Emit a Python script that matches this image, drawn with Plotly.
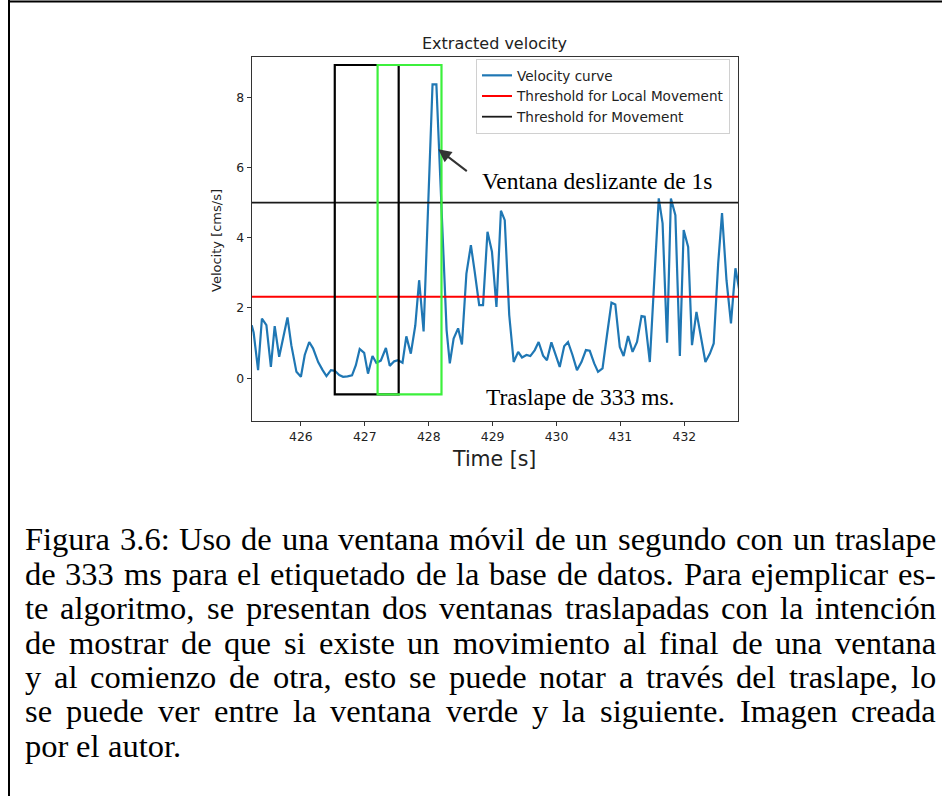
import plotly.graph_objects as go

# ---------------- data ----------------
time_s = [425.23, 425.26, 425.33, 425.39, 425.46, 425.53, 425.59, 425.66, 425.79, 425.85,
          425.93, 426.00, 426.06, 426.13, 426.19, 426.27, 426.34, 426.40, 426.47, 426.53,
          426.60, 426.66, 426.73, 426.80, 426.86, 426.92, 426.99, 427.05, 427.12, 427.18,
          427.25, 427.33, 427.39, 427.46, 427.52, 427.59, 427.65, 427.72, 427.79, 427.85,
          427.92, 428.06, 428.12, 428.28, 428.33, 428.39, 428.46, 428.52, 428.59, 428.66,
          428.72, 428.79, 428.85, 428.92, 428.99, 429.06, 429.13, 429.19, 429.26, 429.33,
          429.40, 429.46, 429.53, 429.59, 429.66, 429.72, 429.79, 429.85, 429.92, 429.99,
          430.05, 430.12, 430.18, 430.25, 430.32, 430.39, 430.46, 430.52, 430.59, 430.65,
          430.72, 430.79, 430.86, 430.92, 430.99, 431.05, 431.12, 431.19, 431.26, 431.33,
          431.38, 431.46, 431.60, 431.66, 431.73, 431.79, 431.86, 431.93, 431.99, 432.06,
          432.12, 432.19, 432.25, 432.33, 432.40, 432.46, 432.53, 432.59, 432.66, 432.73,
          432.80, 432.87]
velocity = [1.51, 1.30, 0.23, 1.70, 1.51, 0.32, 1.48, 0.61, 1.73, 0.94,
            0.18, 0.04, 0.66, 1.03, 0.85, 0.46, 0.23, 0.06, 0.23, 0.21,
            0.09, 0.04, 0.05, 0.08, 0.37, 0.83, 0.72, 0.13, 0.63, 0.44,
            0.50, 0.86, 0.35, 0.48, 0.51, 0.44, 1.19, 0.70, 1.50, 2.79,
            1.33, 8.37, 8.37, 1.37, 0.42, 1.13, 1.42, 0.96, 2.98, 3.79,
            3.03, 2.08, 2.08, 4.17, 3.60, 2.03, 4.77, 4.50, 1.80, 0.46,
            0.75, 0.59, 0.66, 0.63, 0.80, 1.03, 0.64, 0.51, 1.02, 0.66,
            0.32, 0.91, 1.03, 0.66, 0.23, 0.46, 0.80, 0.78, 0.42, 0.18,
            0.28, 1.23, 2.15, 2.10, 0.89, 0.63, 1.20, 0.75, 1.03, 1.77,
            1.75, 0.46, 5.12, 4.41, 1.01, 5.12, 4.64, 0.63, 4.22, 3.74,
            0.94, 1.89, 1.27, 0.46, 0.70, 0.99, 3.27, 4.70, 2.79, 1.56,
            3.13, 2.40]
local_threshold = 2.32
movement_threshold = 5.0
window_starts = [426.53, 427.20]
window_length = 1.0
window_colors = ["#000000", "#3cf03c"]
window_low, window_high = -0.46, 8.92
x_ticks = [426, 427, 428, 429, 430, 431, 432]
y_ticks = [0, 2, 4, 6, 8]
x_range = [425.23, 432.84]
y_range = [-1.22, 9.14]

caption_lines = [
    "Figura 3.6: Uso de una ventana móvil de un segundo con un traslape",
    "de 333 ms para el etiquetado de la base de datos. Para ejemplicar es-",
    "te algoritmo, se presentan dos ventanas traslapadas con la intención",
    "de mostrar de que si existe un movimiento al final de una ventana",
    "y al comienzo de otra, esto se puede notar a través del traslape, lo",
    "se puede ver entre la ventana verde y la siguiente. Imagen creada",
    "por el autor.",
]

# ---------------- layout helpers ----------------
W, H = 942, 796
def px(x):
    return x / W
def py(y):
    return 1 - y / H

SANS = "DejaVu Sans"
SERIF = "Liberation Serif"

fig = go.Figure()
fig.add_trace(go.Scatter(x=time_s, y=velocity, mode="lines", name="Velocity curve",
                         line=dict(color="#1f77b4", width=2.2)))
fig.add_trace(go.Scatter(x=x_range, y=[local_threshold] * 2, mode="lines",
                         name="Threshold for Local Movement",
                         line=dict(color="#ff0000", width=2)))
fig.add_trace(go.Scatter(x=x_range, y=[movement_threshold] * 2, mode="lines",
                         name="Threshold for Movement",
                         line=dict(color="#1a1a1a", width=1.8)))

shapes = []
for start, col in zip(window_starts, window_colors):
    shapes.append(dict(type="rect", xref="x", yref="y", x0=start, x1=start + window_length,
                       y0=window_low, y1=window_high, line=dict(color=col, width=2.2),
                       layer="above"))
# page border (left and top)
shapes.append(dict(type="line", xref="paper", yref="paper", x0=px(9), x1=px(9),
                   y0=py(0), y1=py(H), line=dict(color="#000", width=2)))
shapes.append(dict(type="line", xref="paper", yref="paper", x0=px(9), x1=px(W),
                   y0=py(1.5), y1=py(1.5), line=dict(color="#000", width=2)))

def label(text, x, y, size, family=SANS, color="#222", angle=0):
    return dict(text=text, x=px(x), y=py(y), xref="paper", yref="paper",
                xanchor="center", yanchor="middle", showarrow=False, textangle=angle,
                font=dict(family=family, size=size, color=color))

annotations = [
    label("Extracted velocity", 494, 43, 16),
    label("Time [s]", 494, 459, 20.5),
    label("Velocity [cms/s]", 217, 241, 13, angle=-90),
    label("Ventana deslizante de 1s", 597, 181, 23.5, family=SERIF, color="#000"),
    label("Traslape de 333 ms.", 580, 397, 23.5, family=SERIF, color="#000"),
    dict(text="", x=428.15, y=6.52, xref="x", yref="y", showarrow=True,
         ax=30, ay=23, arrowhead=2, arrowsize=1.3, arrowwidth=2, arrowcolor="#333"),
]

# caption, justified word by word using Times-compatible metrics
CW = dict(a=444, b=500, c=444, d=500, e=444, f=333, g=500, h=500, i=278, j=278, k=500,
          l=278, m=778, n=500, o=500, p=500, q=500, r=333, s=389, t=278, u=500, v=500,
          w=722, x=500, y=500, z=444)
CW.update({"F": 556, "I": 333, "P": 556, "U": 722, ".": 250, ",": 250, ":": 278, "-": 333,
           "ó": 500, "é": 444, "á": 444, "í": 278, " ": 250})
for dgt in "0123456789":
    CW[dgt] = 500

def word_w(wd, size):
    return sum(CW.get(ch, 500) for ch in wd) / 1000 * size

CAP_SIZE = 32.5
LEFT, RIGHT = 25, 936
line_y = [539, 573.5, 608, 642.5, 677, 711, 745.5]
for li, (line, yc) in enumerate(zip(caption_lines, line_y)):
    words = line.split(" ")
    widths = [word_w(wd, CAP_SIZE) for wd in words]
    last = li == len(caption_lines) - 1
    if last or len(words) == 1:
        gap = word_w(" ", CAP_SIZE)
    else:
        gap = (RIGHT - LEFT - sum(widths)) / (len(words) - 1)
    xpos = LEFT
    for wd, ww in zip(words, widths):
        annotations.append(dict(text=wd, x=px(xpos), y=py(yc), xref="paper", yref="paper",
                                xanchor="left", yanchor="middle", showarrow=False,
                                borderpad=0, borderwidth=0,
                                font=dict(family=SERIF, size=CAP_SIZE, color="#000")))
        xpos += ww + gap

fig.update_layout(
    width=W, height=H, margin=dict(l=0, r=0, t=0, b=0),
    paper_bgcolor="white", plot_bgcolor="white",
    shapes=shapes, annotations=annotations,
    showlegend=True,
    legend=dict(x=px(476), y=py(59), xanchor="left", yanchor="top",
                bgcolor="rgba(255,255,255,0.85)", bordercolor="#d0d0d0", borderwidth=1,
                font=dict(family=SANS, size=13.6, color="#222"), tracegroupgap=0),
    xaxis=dict(domain=[px(251.7), px(738)], range=x_range, tickvals=x_ticks,
               ticks="outside", ticklen=4, tickwidth=1, tickcolor="#333",
               showline=True, mirror=True, linecolor="#333", linewidth=1.2,
               showgrid=False, zeroline=False,
               tickfont=dict(family=SANS, size=12.4, color="#222")),
    yaxis=dict(domain=[py(421), py(57.3)], range=y_range, tickvals=y_ticks,
               ticks="outside", ticklen=4, tickwidth=1, tickcolor="#333",
               showline=True, mirror=True, linecolor="#333", linewidth=1.2,
               showgrid=False, zeroline=False,
               tickfont=dict(family=SANS, size=12.4, color="#222")),
)

fig.write_html("out.html")
